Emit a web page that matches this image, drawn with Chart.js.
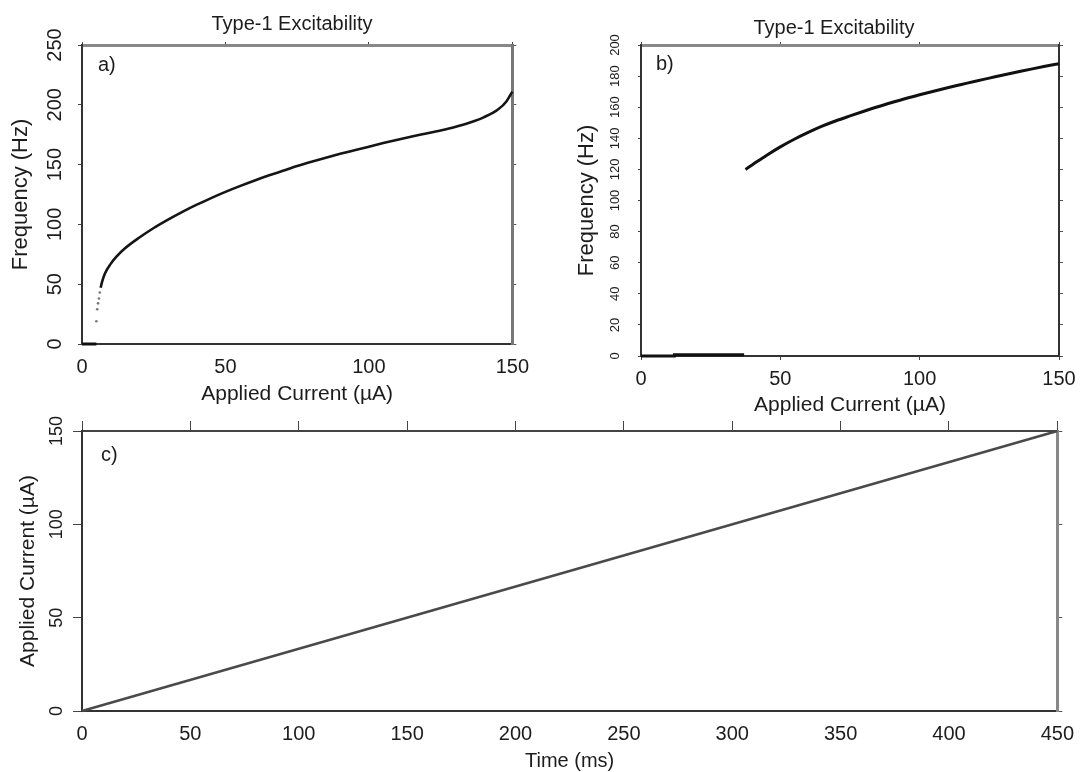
<!DOCTYPE html>
<html lang="en">
<head>
<meta charset="UTF-8" />
<title>Type-1 Excitability</title>
<script src="https://cdn.jsdelivr.net/npm/chart.js"></script>
<style>
  body { margin: 0; background: #fff; width: 1085px; height: 772px; position: relative; overflow: hidden; }
  .panel { position: absolute; }
  #boxA { left: 0; top: 0; width: 540px; height: 420px; }
  #boxB { left: 540px; top: 0; width: 545px; height: 420px; }
  #boxC { left: 0; top: 405px; width: 1085px; height: 367px; }
</style>
</head>
<body>
<div class="panel" id="boxA"><canvas id="chartA"></canvas></div>
<div class="panel" id="boxB"><canvas id="chartB"></canvas></div>
<div class="panel" id="boxC"><canvas id="chartC"></canvas></div>

<script>
// panel a: frequency vs applied current, smooth onset
const aRestCurrent = [0, 5];
const aRestFreq = [0, 0];
const aOnsetCurrent = [5.0, 5.3, 5.6, 5.9, 6.2];
const aOnsetFreq = [19, 29, 34, 38, 43];
const aCurrent = [6.5, 7, 8, 10, 12, 15, 20, 25, 30, 35, 40, 45, 50, 55, 60, 65, 70, 75, 80, 85, 90, 95, 100, 105, 110, 115, 120, 125, 130, 135, 140, 145, 148, 150];
const aFreq = [47, 52, 59, 67, 73, 80, 89, 97, 104, 110.5, 116.5, 122, 127.2, 132, 136.5, 140.8, 144.8, 148.8, 152.4, 155.8, 159, 162, 165, 168, 170.8, 173.5, 176, 178.6, 181.5, 185, 189.5, 196, 203, 211];

// panel b: frequency vs applied current, jump at onset
const bRestCurrent = [0, 12, 12, 37];
const bRestFreq = [0, 0, 0.8, 0.8];
const bCurrent = [37.5, 40, 45, 50, 55, 60, 65, 70, 75, 80, 85, 90, 95, 100, 105, 110, 115, 120, 125, 130, 135, 140, 145, 150];
const bFreq = [120, 123, 129, 134.5, 139.4, 143.8, 147.8, 151.3, 154.4, 157.4, 160.3, 163, 165.6, 168, 170.3, 172.5, 174.6, 176.7, 178.7, 180.7, 182.6, 184.5, 186.3, 188];

// panel c: current ramp over time
const cTime = [0, 450];
const cCurrent = [0, 150];

// tick settings
const aXTicks = { min: 0, max: 150, step: 50 };
const aYTicks = { min: 0, max: 250, step: 50 };
const bXTicks = { min: 0, max: 150, step: 50 };
const bYTicks = { min: 0, max: 200, step: 20 };
const cXTicks = { min: 0, max: 450, step: 50 };
const cYTicks = { min: 0, max: 150, step: 50 };

const family = '"Liberation Sans", Arial, sans-serif';
const ink = '#1c1c1c';
Chart.defaults.font.family = family;
Chart.defaults.color = ink;

function toPoints(xs, ys) {
  return xs.map((x, i) => ({ x: x, y: ys[i] }));
}

function fixSize(w, h) {
  return function (scale) {
    if (w != null) scale.width = w;
    if (h != null) scale.height = h;
  };
}

// panel title + letter drawn on top of the chart
const panelText = {
  id: 'panelText',
  afterDraw(chart, args, opts) {
    const ctx = chart.ctx;
    const area = chart.chartArea;
    ctx.save();
    ctx.fillStyle = ink;
    ctx.textBaseline = 'middle';
    ctx.font = '20px ' + family;
    if (opts.title) {
      ctx.textAlign = 'center';
      ctx.fillText(opts.title, opts.titleX, opts.titleY);
    }
    ctx.textAlign = 'left';
    ctx.fillText(opts.letter, area.left + opts.letterDx, area.top + opts.letterDy);
    ctx.restore();
  }
};

function lineSet(points, color, width, smooth) {
  const ds = {
    data: points, xAxisID: 'x', yAxisID: 'y',
    borderColor: color, borderWidth: width,
    pointRadius: 0, tension: 0, clip: false, fill: false
  };
  if (smooth) ds.cubicInterpolationMode = 'monotone';
  return ds;
}

function frame(cfg) {
  return {
    x: {
      type: 'linear', position: 'bottom', min: cfg.xt.min, max: cfg.xt.max,
      ticks: { stepSize: cfg.xt.step, padding: cfg.xPad, font: { size: 20 }, color: ink },
      grid: { drawOnChartArea: false, drawTicks: cfg.xTick > 0, tickLength: cfg.xTick, tickColor: '#444' },
      border: { color: '#333', width: cfg.bottomW },
      title: { display: true, text: cfg.xTitle, color: ink, font: { size: cfg.xTitleSize, lineHeight: 1 }, padding: { top: 0, bottom: cfg.xTitlePad } },
      afterFit: fixSize(null, cfg.bottomH)
    },
    xTop: {
      type: 'linear', position: 'top', min: cfg.xt.min, max: cfg.xt.max,
      ticks: { display: false, stepSize: cfg.xt.step },
      grid: { drawOnChartArea: false, tickLength: cfg.topTick, tickColor: '#444' },
      border: { color: cfg.topColor, width: cfg.topW },
      afterFit: fixSize(null, cfg.topH)
    },
    y: {
      type: 'linear', position: 'left', min: cfg.yt.min, max: cfg.yt.max,
      ticks: { stepSize: cfg.yt.step, minRotation: 90, maxRotation: 90, crossAlign: 'center', padding: cfg.yPad, font: { size: cfg.yTickSize }, color: ink },
      grid: { drawOnChartArea: false, tickLength: cfg.leftTick, tickColor: '#444' },
      border: { color: '#333', width: 2 },
      title: { display: true, text: cfg.yTitle, color: ink, font: { size: cfg.yTitleSize }, padding: { top: cfg.yTitlePad, bottom: 0 } },
      afterFit: fixSize(cfg.leftW, null)
    },
    yRight: {
      type: 'linear', position: 'right', min: cfg.yt.min, max: cfg.yt.max,
      ticks: { display: false, stepSize: cfg.yt.step },
      grid: { drawOnChartArea: false, tickLength: cfg.rightTick, tickColor: '#555' },
      border: { color: cfg.rightColor, width: cfg.rightW },
      afterFit: fixSize(cfg.rightW2, null)
    }
  };
}

function baseOptions(scales, text) {
  return {
    responsive: true,
    maintainAspectRatio: false,
    animation: false,
    layout: { padding: 0 },
    plugins: { legend: { display: false }, tooltip: { enabled: false }, panelText: text },
    scales: scales
  };
}

new Chart(document.getElementById('chartA'), {
  type: 'line',
  data: {
    datasets: [
      lineSet(toPoints(aRestCurrent, aRestFreq), '#111', 3),
      Object.assign(lineSet(toPoints(aOnsetCurrent, aOnsetFreq), '#777', 0), { showLine: false, pointRadius: 1.3, pointBackgroundColor: '#777', pointBorderWidth: 0 }),
      lineSet(toPoints(aCurrent, aFreq), '#151515', 2.6, true)
    ]
  },
  options: baseOptions(frame({
    xt: aXTicks, yt: aYTicks,
    xPad: 11, xTick: 0, bottomW: 2, bottomH: 76,
    xTitle: 'Applied Current (µA)', xTitleSize: 21, xTitlePad: 15,
    topTick: 3, topColor: '#888', topW: 3, topH: 45,
    yPad: 6, yTickSize: 20, leftTick: 4, leftW: 82,
    yTitle: 'Frequency (Hz)', yTitleSize: 22, yTitlePad: 8,
    rightTick: 4, rightColor: '#777', rightW: 3, rightW2: 17
  }), { title: 'Type-1 Excitability', titleX: 292, titleY: 24, letter: 'a)', letterDx: 16, letterDy: 20 }),
  plugins: [panelText]
});

new Chart(document.getElementById('chartB'), {
  type: 'line',
  data: {
    datasets: [
      lineSet(toPoints(bRestCurrent, bRestFreq), '#111', 3),
      lineSet(toPoints(bCurrent, bFreq), '#111', 3, true)
    ]
  },
  options: baseOptions(frame({
    xt: bXTicks, yt: bYTicks,
    xPad: 7, xTick: 4, bottomW: 2, bottomH: 64,
    xTitle: 'Applied Current (µA)', xTitleSize: 21, xTitlePad: 4,
    topTick: 3, topColor: '#888', topW: 3, topH: 45,
    yPad: 12, yTickSize: 13, leftTick: 3, leftW: 101,
    yTitle: 'Frequency (Hz)', yTitleSize: 22, yTitlePad: 34,
    rightTick: 4, rightColor: '#333', rightW: 2, rightW2: 26
  }), { title: 'Type-1 Excitability', titleX: 294, titleY: 28, letter: 'b)', letterDx: 15, letterDy: 19 }),
  plugins: [panelText]
});

new Chart(document.getElementById('chartC'), {
  type: 'line',
  data: {
    datasets: [
      lineSet(toPoints(cTime, cCurrent), '#4a4a4a', 2.5)
    ]
  },
  options: baseOptions(frame({
    xt: cXTicks, yt: cYTicks,
    xPad: 11, xTick: 0, bottomW: 2, bottomH: 61,
    xTitle: 'Time (ms)', xTitleSize: 20, xTitlePad: 1,
    topTick: 10, topColor: '#444', topW: 2, topH: 26,
    yPad: 1, yTickSize: 18, leftTick: 9, leftW: 82,
    yTitle: 'Applied Current (µA)', yTitleSize: 21, yTitlePad: 16,
    rightTick: 5, rightColor: '#888', rightW: 3, rightW2: 19
  }), { title: '', letter: 'c)', letterDx: 19, letterDy: 24 }),
  plugins: [panelText]
});
</script>
</body>
</html>
